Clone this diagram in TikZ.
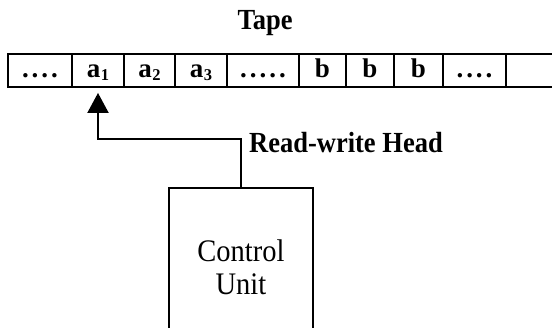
\documentclass[tikz,border=0pt]{standalone}
\usepackage{fontspec}
\setmainfont{Liberation Serif}
\usetikzlibrary{arrows.meta}
\newcommand{\vst}[1]{\scalebox{1}[1.1]{#1}}
\newcommand{\subn}[1]{\kern0.5pt\raisebox{-3pt}{\fontsize{16.5}{17}\selectfont #1}}
\newcommand{\fourdots}{.\kern3pt.\kern3pt.\kern3pt.}
\newcommand{\fivedots}{.\kern3pt.\kern3pt.\kern3pt.\kern3pt.}
\tikzset{
  cell/.style={draw, line width=1.9pt, inner sep=0pt, minimum height=33pt,
    text height=19pt, text depth=4pt,
    font=\fontsize{27}{30}\selectfont\bfseries},
  lbl/.style={inner sep=0pt, font=\fontsize{26.5}{30}\selectfont\bfseries},
  unitbox/.style={draw, line width=2.5pt, minimum width=144pt, minimum height=158pt,
    align=center, font=\fontsize{28.5}{33}\selectfont},
  conn/.style={line width=2pt, -{Triangle[length=20pt,width=21pt]}}
}
\begin{document}
\begin{tikzpicture}[x=1pt,y=-1pt]
\useasboundingbox (0,0) rectangle (552,328);
\node[cell, minimum width=64pt] (c1) at (40,70.5) {\fourdots};
\node[cell, minimum width=52pt] (c2) at (98,70.5) {a\subn{1}};
\node[cell, minimum width=51pt] (c3) at (149.5,70.5) {a\subn{2}};
\node[cell, minimum width=52pt] (c4) at (201,70.5) {a\subn{3}};
\node[cell, minimum width=72pt] (c5) at (263,70.5) {\fivedots};
\node[cell, minimum width=47pt] (c6) at (322.5,70.5) {b};
\node[cell, minimum width=48pt] (c7) at (370,70.5) {b};
\node[cell, minimum width=49pt] (c8) at (418.5,70.5) {b};
\node[cell, minimum width=63pt] (c9) at (474.5,70.5) {\fourdots};
\node[cell, minimum width=54pt] (c10) at (533,70.5) {};
\node[lbl, anchor=base] (tape) at (265,30) {\vst{Tape}};
\node[unitbox, anchor=north] (cu) at (241,187) {\vst{Control}\\\vst{Unit}};
\node[lbl, anchor=base west] (rw) at (249,153) {\vst{Read-write Head}};
\draw[conn] (cu.north) |- ([yshift=-51pt]c2.south) -- ([yshift=-5pt]c2.south);
\end{tikzpicture}
\end{document}
